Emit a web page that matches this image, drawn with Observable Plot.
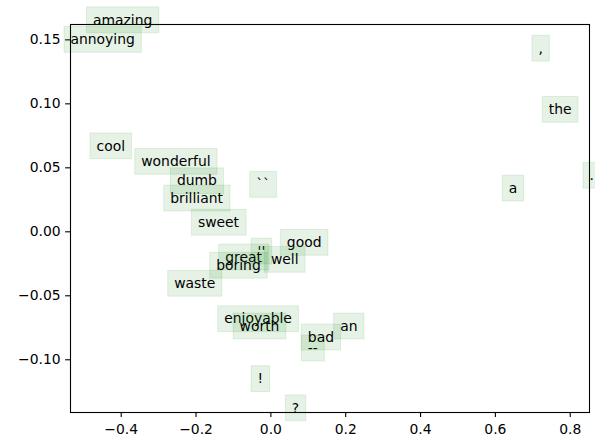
<!DOCTYPE html>
<html>
<head>
<meta charset="utf-8">
<script src="https://cdn.jsdelivr.net/npm/d3@7"></script>
<script src="https://cdn.jsdelivr.net/npm/@observablehq/plot@0.6"></script>
<style>
  html, body { margin: 0; padding: 0; background: #fff; }
  #chart svg { display: block; overflow: visible; }
</style>
</head>
<body>
<div id="chart"></div>
<script>
// 2-D projection of word vectors: each word is written at its (x, y) position.
const words = ["the", ",", ".", "a", "an", "``", "''", "!", "?", "--",
  "good", "great", "well", "bad", "boring", "amazing", "annoying", "cool",
  "wonderful", "dumb", "brilliant", "sweet", "waste", "enjoyable", "worth"];
const xs = [0.7425, 0.715, 0.8515, 0.6357, 0.1851, -0.0393, -0.0355, -0.0355, 0.0561, 0.0988,
  0.0427, -0.1221, 0.0, 0.0988, -0.1461, -0.4754, -0.5355, -0.4660,
  -0.3464, -0.2511, -0.2690, -0.1950, -0.2583, -0.1247, -0.0836];
const ys = [0.0920, 0.1398, 0.0405, 0.0305, -0.0773, 0.0334, -0.0187, -0.1184, -0.1412, -0.0945,
  -0.0119, -0.0234, -0.0252, -0.0859, -0.0298, 0.1620, 0.1467, 0.0635,
  0.0514, 0.0362, 0.0227, 0.0038, -0.0439, -0.0716, -0.0773];

const xTicks = [-0.4, -0.2, 0.0, 0.2, 0.4, 0.6, 0.8];
const yTicks = [-0.10, -0.05, 0.00, 0.05, 0.10, 0.15];

const points = words.map((word, i) => ({word, x: xs[i], y: ys[i]}));

const fontFamily = "DejaVu Sans";
const fontSize = 13.9;

const chart = Plot.plot({
  width: 595,
  height: 437,
  marginLeft: 70,
  marginRight: 6,
  marginTop: 24,
  marginBottom: 25,
  style: {fontFamily, fontSize: `${fontSize}px`, color: "black", background: "white", overflow: "visible"},
  x: {domain: d3.extent(xs), label: null, axis: null},
  y: {domain: d3.extent(ys), label: null, axis: null},
  marks: [
    Plot.axisX(xTicks, {anchor: "bottom", tickFormat: d3.format(".1f"), tickSize: 4.9, tickPadding: 6.5, strokeWidth: 1.1, label: null, fontSize}),
    Plot.axisY(yTicks, {anchor: "left", tickFormat: d3.format(".2f"), tickSize: 4.9, tickPadding: 4.9, strokeWidth: 1.1, label: null, fontSize}),
    Plot.frame({stroke: "black", strokeWidth: 1.1}),
    Plot.text(points, {x: "x", y: "y", text: "word", textAnchor: "start", lineAnchor: "bottom", fill: "black", fontSize, fontFamily})
  ]
});

document.getElementById("chart").append(chart);

// Light green label boxes, each drawn just beneath its own word so that later
// boxes tint earlier words where they overlap.
const layer = chart.querySelector('g[aria-label="text"]');
const padX = 6.5, padTop = 4.6, padBottom = 5.2;
for (const t of Array.from(layer.querySelectorAll("text"))) {
  const b = t.getBBox();
  const r = document.createElementNS("http://www.w3.org/2000/svg", "rect");
  r.setAttribute("x", b.x - padX);
  r.setAttribute("y", b.y - padTop);
  r.setAttribute("width", b.width + 2 * padX);
  r.setAttribute("height", b.height + padTop + padBottom);
  r.setAttribute("fill", "green");
  r.setAttribute("fill-opacity", 0.1);
  r.setAttribute("stroke", "green");
  r.setAttribute("stroke-opacity", 0.1);
  r.setAttribute("stroke-width", 1);
  const tr = t.getAttribute("transform");
  if (tr) r.setAttribute("transform", tr);
  layer.insertBefore(r, t);
}
</script>
</body>
</html>
